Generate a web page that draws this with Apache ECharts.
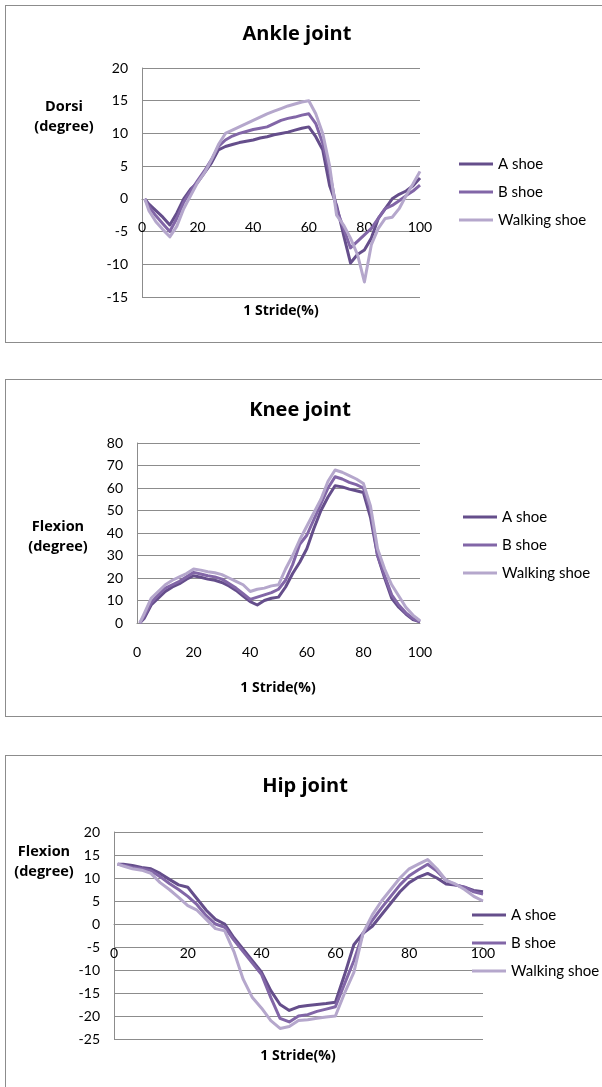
<!DOCTYPE html>
<html><head><meta charset="utf-8">
<script src="https://cdn.jsdelivr.net/npm/echarts@6/dist/echarts.min.js"></script>
<style>
html,body{margin:0;padding:0;background:#fff;}
#wrap{position:relative;width:602px;height:1087px;overflow:hidden;}
.box{position:absolute;left:5px;width:700px;border:1px solid #8c8c8c;box-sizing:border-box;}
#chart{position:absolute;left:0;top:0;width:602px;height:1087px;}
</style></head><body>
<div id="wrap">
<div class="box" style="top:5px;height:338px"></div>
<div class="box" style="top:379px;height:338px"></div>
<div class="box" style="top:755px;height:400px"></div>
<div id="chart"></div>
</div>
<script>
const seriesNames = ['A shoe', 'B shoe', 'Walking shoe'];
const seriesColors = ['#654E8B', '#8266A7', '#B5A7CC'];
const stride = [1,2.5,5,7.5,10,12.5,15,17.5,20,22.5,25,27.5,30,32.5,35,37.5,40,42.5,45,47.5,50,52.5,55,57.5,60,62.5,65,67.5,70,72.5,75,77.5,80,82.5,85,87.5,90,92.5,95,97.5,100];
const xTicks = [0, 20, 40, 60, 80, 100];

const ankleA = [0,-0.8,-1.8,-2.8,-4,-2.2,0,1.5,2.5,4,5.5,7.5,8,8.3,8.6,8.8,9,9.3,9.5,9.8,10,10.2,10.5,10.8,11,9.5,7.5,2,-1,-5.5,-9.8,-8.5,-7.8,-6,-3,-1.5,0,0.7,1.2,2,3.2];
const ankleB = [0,-1.2,-2.6,-3.8,-5,-3,-0.5,1.2,2.8,4.3,6,8,9,9.6,10,10.3,10.6,10.8,11,11.5,12,12.3,12.5,12.8,13,11.5,8.5,4,-1.5,-4.5,-7.5,-6.5,-5.5,-4.5,-3,-1.5,-1,-0.3,0.5,1.2,2.1];
const ankleW = [0,-1.8,-3.5,-4.7,-5.8,-4.2,-1.5,0.5,2.5,4,6,8.3,10,10.5,11,11.5,12,12.5,13,13.4,13.8,14.2,14.5,14.8,15,13,10,5,-2.5,-4,-6,-8.5,-12.7,-7,-4.5,-3,-2.8,-1.5,0.5,2.3,4.2];

const kneeA = [0,2,8,11,14,16,17.5,19.5,21,20.3,19.5,19,18,16.5,14.5,12,9.5,8,10,11,11.5,16,22,27,33,42,50,56,61,60.5,59.5,58.8,58,47,30,20,11,7,4,1.5,0.5];
const kneeB = [0,3,9,12.5,15.5,17,18.5,20.5,22.5,21.8,21,20.5,19.5,17.5,15.5,13,10.5,11.5,12.5,13.5,15,19,26,35,39,46,53,60,65,64,62.5,61.5,60,50,30,21,12.5,8,4.5,2,0.5];
const kneeW = [0,4,11,14,17,19,20.5,22,24,23.5,22.8,22.3,21.5,20,18.5,17,14,15,15.5,16.5,17,24,30,37,43,49,55,63,68,67,65.5,64,62,52,33,24,17,12,7,3.5,1];

const hipA = [13,13,12.7,12.3,12,11,9.7,8.5,8,5.5,3,1,0,-3,-5.5,-8,-10.5,-14.5,-17.5,-18.8,-18,-17.7,-17.5,-17.3,-17,-11,-4.5,-2,-0.5,2,4.5,7,9,10.2,11,10,8.7,8.5,8,7.3,7];
const hipB = [13,12.8,12.3,12,11.6,10.3,8.8,7.5,6,4.2,1.8,0,-0.7,-3.5,-6,-8.5,-11,-16,-20.5,-21.3,-20,-19.7,-19,-18.5,-18,-13,-8,-2,0.8,3.5,6,8.5,10.5,11.8,13,11.5,9.5,8.5,8,7,6.5];
const hipW = [13,12.6,12,11.7,11,9,7.5,5.8,4,3,1,-1,-1.5,-6,-12,-16,-18.3,-21,-22.7,-22.3,-21,-20.8,-20.5,-20.2,-20,-15,-10.5,-2,2,5,7.5,10,12,13,14,12,9.5,8.7,7.5,6,5];

const panels = [
  {title:'Ankle joint', yName:'Dorsi\n(degree)', xName:'1 Stride(%)', data:[ankleA, ankleB, ankleW], yMin:-15, yMax:20, yStep:5,
   grid:{left:142, top:68, width:278, height:229}, titleX:297, titleY:24, yNameX:64, yNameY:97, xNameX:281, xNameY:304, legendX:459, legendY:156},
  {title:'Knee joint', yName:'Flexion\n(degree)', xName:'1 Stride(%)', data:[kneeA, kneeB, kneeW], yMin:0, yMax:80, yStep:10,
   grid:{left:137, top:443, width:283, height:180}, titleX:300, titleY:400, yNameX:58, yNameY:517, xNameX:278, xNameY:681, legendX:463, legendY:509},
  {title:'Hip joint', yName:'Flexion\n(degree)', xName:'1 Stride(%)', data:[hipA, hipB, hipW], yMin:-25, yMax:20, yStep:5,
   grid:{left:114, top:832, width:369, height:207}, titleX:305, titleY:776, yNameX:44, yNameY:842, xNameX:298, xNameY:1049, legendX:472, legendY:907}
];

const FONT = 'Lato, "Liberation Sans", sans-serif';
const BOLDFONT = '"Open Sans", Lato, sans-serif';
const axisGray = '#8C8C8C';
const option = {
  animation:false,
  textStyle:{fontFamily:FONT, color:'#000'},
  title:[], grid:[], xAxis:[], yAxis:[], legend:[], series:[]
};
panels.forEach((p, k) => {
  option.title.push({text:p.title, left:p.titleX, top:p.titleY, textAlign:'center', padding:0,
    textStyle:{fontFamily:BOLDFONT, fontSize:20, fontWeight:'bold', color:'#000'}});
  option.title.push({text:p.yName, left:p.yNameX, top:p.yNameY, textAlign:'center', padding:0,
    textStyle:{fontFamily:BOLDFONT, fontSize:14.5, fontWeight:'bold', color:'#000', lineHeight:20}});
  option.title.push({text:p.xName, left:p.xNameX, top:p.xNameY, textAlign:'center', padding:0,
    textStyle:{fontFamily:BOLDFONT, fontSize:14, fontWeight:'bold', color:'#000'}});
  option.grid.push(Object.assign({containLabel:false}, p.grid));
  option.xAxis.push({type:'value', gridIndex:k, position:'bottom', offset:0,
    min:xTicks[0], max:xTicks[xTicks.length-1], interval:xTicks[1]-xTicks[0],
    axisLine:{show:true, onZero:false, lineStyle:{color:axisGray, width:1}},
    axisTick:{show:false}, splitLine:{show:false},
    axisLabel:{margin:22, fontSize:14, color:'#000', fontFamily:FONT}});
  option.yAxis.push({type:'value', gridIndex:k, min:p.yMin, max:p.yMax, interval:p.yStep,
    axisLine:{show:true, onZero:false, lineStyle:{color:axisGray, width:1}},
    axisTick:{show:false},
    splitLine:{show:true, lineStyle:{color:axisGray, width:1}},
    axisLabel:{margin:14, fontSize:14, color:'#000', fontFamily:FONT}});
  option.legend.push({orient:'vertical', left:p.legendX, top:p.legendY, padding:0, icon:'rect',
    itemWidth:34, itemHeight:3, itemGap:12, data:seriesNames.slice(),
    textStyle:{fontSize:15, color:'#000', fontFamily:FONT, lineHeight:16}});
  p.data.forEach((arr, s) => {
    option.series.push({type:'line', name:seriesNames[s], xAxisIndex:k, yAxisIndex:k,
      showSymbol:false, symbol:'none', smooth:false,
      lineStyle:{color:seriesColors[s], width:3, join:'round'},
      itemStyle:{color:seriesColors[s]},
      data:stride.map((x, i) => [x, arr[i]])});
  });
});
const chart = echarts.init(document.getElementById('chart'), null, {renderer:'canvas'});
chart.setOption(option);
// Place each horizontal axis on the y = 0 line, measured through the library's own y scale.
const xAxisFix = panels.map((p, k) => {
  const zeroPx = chart.convertToPixel({yAxisIndex:k}, 0);
  const bottomPx = chart.convertToPixel({yAxisIndex:k}, p.yMin);
  return {offset: -(bottomPx - zeroPx)};
});
chart.setOption({xAxis: xAxisFix});
</script>
</body></html>
